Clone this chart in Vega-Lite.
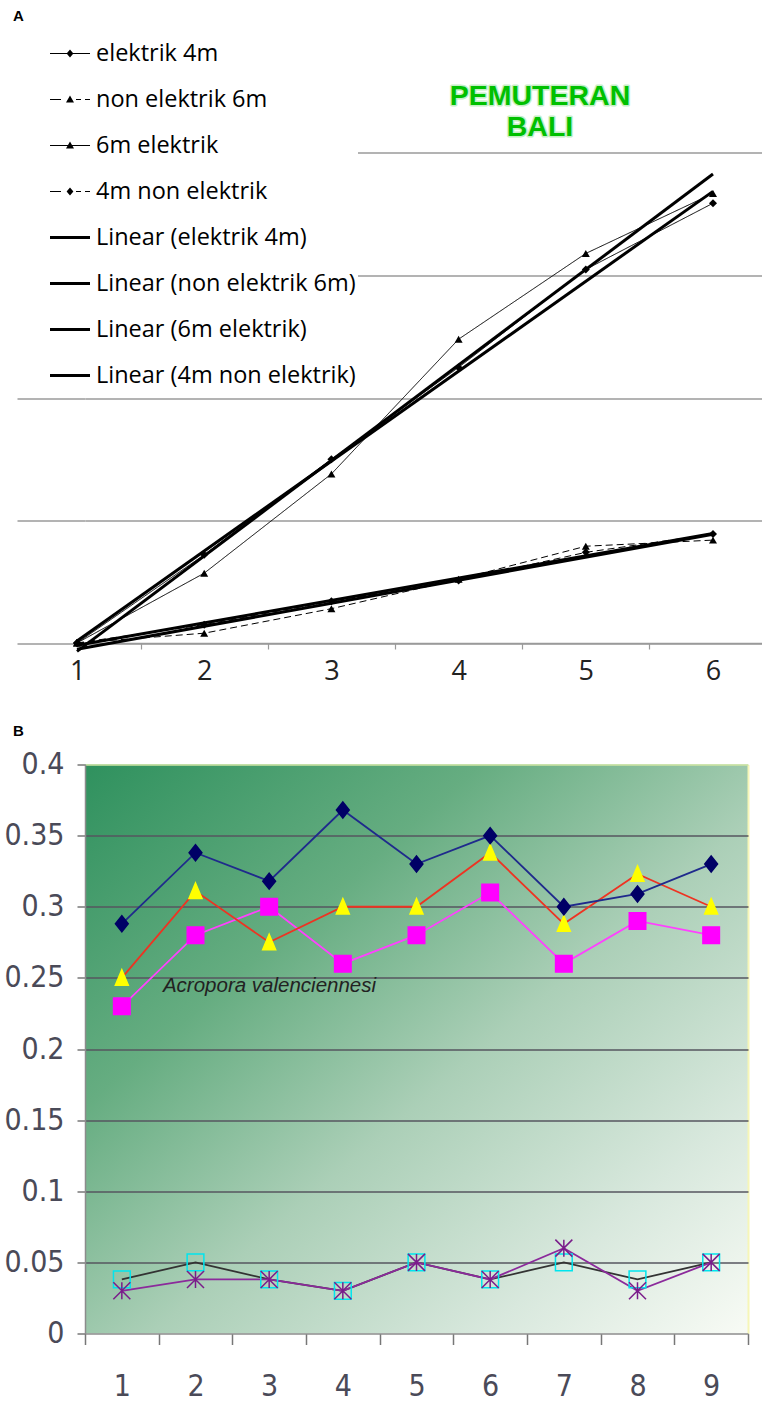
{
  "$schema": "https://vega.github.io/schema/vega-lite/v6.json",
  "padding": {"left": 3, "top": 8.5, "right": 0, "bottom": 0},
  "background": "white",
  "config": {"view": {"stroke": null}, "font": "Liberation Sans"},
  "datasets": {
    "a": [
      {"s": "elektrik 4m", "x": 1, "y": 0}, {"s": "elektrik 4m", "x": 2, "y": 0.72}, {"s": "elektrik 4m", "x": 3, "y": 1.5},
      {"s": "elektrik 4m", "x": 4, "y": 2.25}, {"s": "elektrik 4m", "x": 5, "y": 3.05}, {"s": "elektrik 4m", "x": 6, "y": 3.59},
      {"s": "non elektrik 6m", "x": 1, "y": 0}, {"s": "non elektrik 6m", "x": 2, "y": 0.08}, {"s": "non elektrik 6m", "x": 3, "y": 0.28},
      {"s": "non elektrik 6m", "x": 4, "y": 0.52}, {"s": "non elektrik 6m", "x": 5, "y": 0.79}, {"s": "non elektrik 6m", "x": 6, "y": 0.84},
      {"s": "6m elektrik", "x": 1, "y": 0}, {"s": "6m elektrik", "x": 2, "y": 0.57}, {"s": "6m elektrik", "x": 3, "y": 1.38},
      {"s": "6m elektrik", "x": 4, "y": 2.48}, {"s": "6m elektrik", "x": 5, "y": 3.18}, {"s": "6m elektrik", "x": 6, "y": 3.67},
      {"s": "4m non elektrik", "x": 1, "y": 0}, {"s": "4m non elektrik", "x": 2, "y": 0.15}, {"s": "4m non elektrik", "x": 3, "y": 0.34},
      {"s": "4m non elektrik", "x": 4, "y": 0.51}, {"s": "4m non elektrik", "x": 5, "y": 0.74}, {"s": "4m non elektrik", "x": 6, "y": 0.89}
    ],
    "b": [
      {"s": "s4", "x": 1, "y": 0.038}, {"s": "s4", "x": 2, "y": 0.05}, {"s": "s4", "x": 3, "y": 0.038}, {"s": "s4", "x": 4, "y": 0.03}, {"s": "s4", "x": 5, "y": 0.05}, {"s": "s4", "x": 6, "y": 0.038}, {"s": "s4", "x": 7, "y": 0.05}, {"s": "s4", "x": 8, "y": 0.038}, {"s": "s4", "x": 9, "y": 0.05},
      {"s": "s5", "x": 1, "y": 0.03}, {"s": "s5", "x": 2, "y": 0.038}, {"s": "s5", "x": 3, "y": 0.038}, {"s": "s5", "x": 4, "y": 0.03}, {"s": "s5", "x": 5, "y": 0.05}, {"s": "s5", "x": 6, "y": 0.038}, {"s": "s5", "x": 7, "y": 0.06}, {"s": "s5", "x": 8, "y": 0.03}, {"s": "s5", "x": 9, "y": 0.05},
      {"s": "s3", "x": 1, "y": 0.23}, {"s": "s3", "x": 2, "y": 0.28}, {"s": "s3", "x": 3, "y": 0.3}, {"s": "s3", "x": 4, "y": 0.26}, {"s": "s3", "x": 5, "y": 0.28}, {"s": "s3", "x": 6, "y": 0.31}, {"s": "s3", "x": 7, "y": 0.26}, {"s": "s3", "x": 8, "y": 0.29}, {"s": "s3", "x": 9, "y": 0.28},
      {"s": "s2", "x": 1, "y": 0.25}, {"s": "s2", "x": 2, "y": 0.311}, {"s": "s2", "x": 3, "y": 0.275}, {"s": "s2", "x": 4, "y": 0.3}, {"s": "s2", "x": 5, "y": 0.3}, {"s": "s2", "x": 6, "y": 0.338}, {"s": "s2", "x": 7, "y": 0.288}, {"s": "s2", "x": 8, "y": 0.323}, {"s": "s2", "x": 9, "y": 0.3},
      {"s": "s1", "x": 1, "y": 0.288}, {"s": "s1", "x": 2, "y": 0.338}, {"s": "s1", "x": 3, "y": 0.318}, {"s": "s1", "x": 4, "y": 0.368}, {"s": "s1", "x": 5, "y": 0.33}, {"s": "s1", "x": 6, "y": 0.35}, {"s": "s1", "x": 7, "y": 0.3}, {"s": "s1", "x": 8, "y": 0.309}, {"s": "s1", "x": 9, "y": 0.33}
    ],
    "notesA": [
      {"label": "PEMUTERAN", "x": 4.64, "y": 4.465},
      {"label": "BALI", "x": 4.64, "y": 4.212}
    ],
    "notesB": [
      {"label": "Acropora valenciennesi", "x": 1.558, "y": 0.244}
    ]
  },
  "columns": 1,
  "spacing": 39,
  "concat": [
    {
      "title": {"text": "A", "anchor": "start", "frame": "group", "dx": -72, "offset": 7, "fontSize": 15, "fontWeight": "bold", "font": "Liberation Sans", "color": "#000000"},
      "width": 677,
      "height": 612.5,
      "encoding": {
        "x": {"field": "x", "type": "quantitative", "scale": {"domain": [1.0629, 6.3852], "nice": false, "zero": false},
          "axis": {"values": [1.0629, 1.5, 2, 2.5, 3, 3.5, 4, 4.5, 5, 5.5, 6], "title": null, "grid": false,
            "domainColor": "#9a9a9a", "domainWidth": 1.3, "tickColor": "#9a9a9a", "tickSize": 6, "tickWidth": 1.2,
            "tickOpacity": {"condition": {"test": "datum.value % 1 === 0.5", "value": 1}, "value": 0},
            "labelExpr": "datum.value % 1 === 0.5 ? '' : '' + round(datum.value)",
            "labelAlign": {"condition": {"test": "datum.value < 1.5", "value": "right"}, "value": "center"},
            "labelFont": "Open Sans", "labelFontSize": 27, "labelColor": "#222222", "labelPadding": 9.5,
            "labelFlush": false, "labelOverlap": false}},
        "y": {"field": "y", "type": "quantitative", "scale": {"domain": [0, 5], "nice": false},
          "axis": {"values": [0, 1, 2, 3, 4], "title": null, "labels": false, "domain": false,
            "ticks": true, "tickSize": 68, "tickColor": "#9a9a9a", "tickWidth": 1.3,
            "grid": true, "gridColor": "#9a9a9a", "gridWidth": 1.3}}
      },
      "resolve": {"scale": {"shape": "independent"}},
      "layer": [
        {
          "data": {"values": [
            {"s": "elektrik 4m"}, {"s": "non elektrik 6m"}, {"s": "6m elektrik"}, {"s": "4m non elektrik"},
            {"s": "Linear (elektrik 4m)"}, {"s": "Linear (non elektrik 6m)"}, {"s": "Linear (6m elektrik)"}, {"s": "Linear (4m non elektrik)"}
          ]},
          "mark": {"type": "point", "filled": true, "color": "black", "opacity": 0},
          "encoding": {
            "shape": {"field": "s", "type": "nominal",
              "scale": {
                "domain": ["elektrik 4m", "non elektrik 6m", "6m elektrik", "4m non elektrik", "Linear (elektrik 4m)", "Linear (non elektrik 6m)", "Linear (6m elektrik)", "Linear (4m non elektrik)"],
                "range": [
                  "M-1,-0.025H1V0.025H-1ZM0,-0.2L0.17,0L0,0.2L-0.17,0Z",
                  "M-1,-0.025H-0.45V0.025H-1ZM0.3,-0.025H0.55V0.025H0.3ZM0.75,-0.025H1V0.025H0.75ZM0,-0.2L0.2,0.15L-0.2,0.15Z",
                  "M-1,-0.025H1V0.025H-1ZM0,-0.2L0.2,0.15L-0.2,0.15Z",
                  "M-1,-0.025H-0.45V0.025H-1ZM0.3,-0.025H0.55V0.025H0.3ZM0.75,-0.025H1V0.025H0.75ZM0,-0.2L0.17,0L0,0.2L-0.17,0Z",
                  "M-1,-0.075H1V0.075H-1Z",
                  "M-1,-0.075H1V0.075H-1Z",
                  "M-1,-0.075H1V0.075H-1Z",
                  "M-1,-0.075H1V0.075H-1Z"
                ]},
              "legend": {"title": null, "orient": "none", "legendX": -68, "legendY": 1, "direction": "vertical",
                "padding": 2, "fillColor": "white", "symbolSize": 1600, "symbolStrokeWidth": 0,
                "symbolOffset": 31, "labelOffset": 6,
                "rowPadding": 14, "labelFont": "Open Sans", "labelFontSize": 23.5, "labelColor": "black", "labelLimit": 500}}
          }
        },
        {
          "data": {"name": "a"},
          "mark": {"type": "line", "color": "black", "strokeWidth": 1},
          "encoding": {
            "detail": {"field": "s"},
            "strokeDash": {"field": "s", "type": "nominal",
              "scale": {"domain": ["elektrik 4m", "non elektrik 6m", "6m elektrik", "4m non elektrik"], "range": [[1, 0], [7, 4], [1, 0], [7, 4]]},
              "legend": null}
          }
        },
        {
          "data": {"name": "a"},
          "mark": {"type": "point", "filled": true, "color": "black", "size": 64, "opacity": 1},
          "encoding": {
            "shape": {"field": "s", "type": "nominal",
              "scale": {"domain": ["elektrik 4m", "non elektrik 6m", "6m elektrik", "4m non elektrik"], "range": ["diamond", "triangle-up", "triangle-up", "diamond"]},
              "legend": null}
          }
        },
        {
          "data": {"name": "a"},
          "transform": [{"regression": "y", "on": "x", "groupby": ["s"]}],
          "mark": {"type": "line", "color": "black", "strokeWidth": 3},
          "encoding": {"detail": {"field": "s"}}
        },
        {
          "data": {"name": "notesA"},
          "mark": {"type": "text", "font": "Liberation Sans", "fontWeight": "bold", "fontSize": 28.5, "align": "center", "baseline": "middle", "fill": "#c6efc6", "stroke": "#c6efc6", "strokeWidth": 3, "strokeJoin": "round"},
          "encoding": {"text": {"field": "label", "type": "nominal"}}
        },
        {
          "data": {"name": "notesA"},
          "mark": {"type": "text", "font": "Liberation Sans", "fontWeight": "bold", "fontSize": 28.5, "align": "center", "baseline": "middle", "fill": "#00c000"},
          "encoding": {"text": {"field": "label", "type": "nominal"}}
        }
      ]
    },
    {
      "title": {"text": "B", "anchor": "start", "frame": "group", "dx": -72, "offset": 10.5, "fontSize": 15, "fontWeight": "bold", "font": "Liberation Sans", "color": "#000000"},
      "width": 663,
      "height": 569,
      "view": {"stroke": null, "fill": {"gradient": "linear", "x1": 0, "y1": 0, "x2": 1, "y2": 1,
        "stops": [{"offset": 0, "color": "#2f915e"}, {"offset": 0.3, "color": "#66ad81"}, {"offset": 0.55, "color": "#abcfb7"}, {"offset": 0.8, "color": "#d8e8dd"}, {"offset": 1, "color": "#f8fbf5"}]}},
      "data": {"name": "b"},
      "encoding": {
        "x": {"field": "x", "type": "quantitative", "scale": {"domain": [0.5, 9.5], "nice": false, "zero": false},
          "axis": {"values": [0.5, 1, 1.5, 2, 2.5, 3, 3.5, 4, 4.5, 5, 5.5, 6, 6.5, 7, 7.5, 8, 8.5, 9, 9.5], "title": null,
            "domainColor": "#8c8c8c", "domainWidth": 1.5, "tickColor": "#777777", "tickWidth": 1.5, "tickSize": 11,
            "tickOpacity": {"condition": {"test": "datum.value % 1 === 0", "value": 0}, "value": 1},
            "labelExpr": "datum.value % 1 === 0 ? '' + datum.value : ''",
            "labelFont": "DejaVu Sans Condensed, Liberation Sans Narrow, Liberation Sans", "labelFontSize": 30, "labelColor": "#4a4a58", "labelPadding": 27,
            "labelFlush": false, "labelOverlap": false,
            "grid": true, "gridColor": "#f6f6b8", "gridWidth": 2,
            "gridOpacity": {"condition": {"test": "datum.value === 9.5", "value": 1}, "value": 0}}},
        "y": {"field": "y", "type": "quantitative", "scale": {"domain": [0, 0.4], "nice": false},
          "axis": {"values": [0, 0.05, 0.1, 0.15, 0.2, 0.25, 0.3, 0.35, 0.4], "title": null,
            "domainColor": "#8c8c8c", "domainWidth": 1.5, "tickColor": "#777777", "tickWidth": 1.5, "tickSize": 8,
            "labelExpr": "'' + datum.value",
            "labelFont": "DejaVu Sans Condensed, Liberation Sans Narrow, Liberation Sans", "labelFontSize": 30, "labelColor": "#4a4a58", "labelPadding": 13,
            "grid": true, "gridWidth": 1.6,
            "gridColor": {"condition": {"test": "datum.value === 0.4", "value": "#cfe6a3"}, "value": "#56565f"},
            "gridOpacity": {"condition": {"test": "datum.value === 0", "value": 0}, "value": 1}}}
      },
      "layer": [
        {
          "mark": {"type": "line", "strokeWidth": 1.8},
          "encoding": {
            "color": {"field": "s", "type": "nominal",
              "scale": {"domain": ["s1", "s2", "s3", "s4", "s5"], "range": ["#1f2a8c", "#ee3322", "#ff40ff", "#333333", "#8b2a9b"]},
              "legend": null}
          }
        },
        {
          "mark": {"type": "point", "strokeWidth": 1.5, "opacity": 1},
          "encoding": {
            "shape": {"field": "s", "type": "nominal",
              "scale": {"domain": ["s1", "s2", "s3", "s4", "s5"], "range": ["M0,-1L0.8,0L0,1L-0.8,0Z", "M0,-1L0.8,0.9L-0.8,0.9Z", "square", "square", "M-1,-1L1,1M-1,1L1,-1M0,-1V1"]},
              "legend": null},
            "fill": {"field": "s", "type": "nominal",
              "scale": {"domain": ["s1", "s2", "s3", "s4", "s5"], "range": ["#000066", "#ffff00", "#ff00ff", "transparent", "transparent"]},
              "legend": null},
            "stroke": {"field": "s", "type": "nominal",
              "scale": {"domain": ["s1", "s2", "s3", "s4", "s5"], "range": ["#000066", "#ffff00", "#ff00ff", "#00e5ee", "#7a1c8a"]},
              "legend": null},
            "size": {"field": "s", "type": "nominal",
              "scale": {"domain": ["s1", "s2", "s3", "s4", "s5"], "range": [256, 289, 120, 144, 196]},
              "legend": null}
          }
        },
        {
          "data": {"name": "notesB"},
          "mark": {"type": "text", "font": "Liberation Sans", "fontSize": 20.5, "fontStyle": "italic", "align": "left", "baseline": "middle", "color": "#222222"},
          "encoding": {"text": {"field": "label", "type": "nominal"}}
        }
      ]
    }
  ]
}
